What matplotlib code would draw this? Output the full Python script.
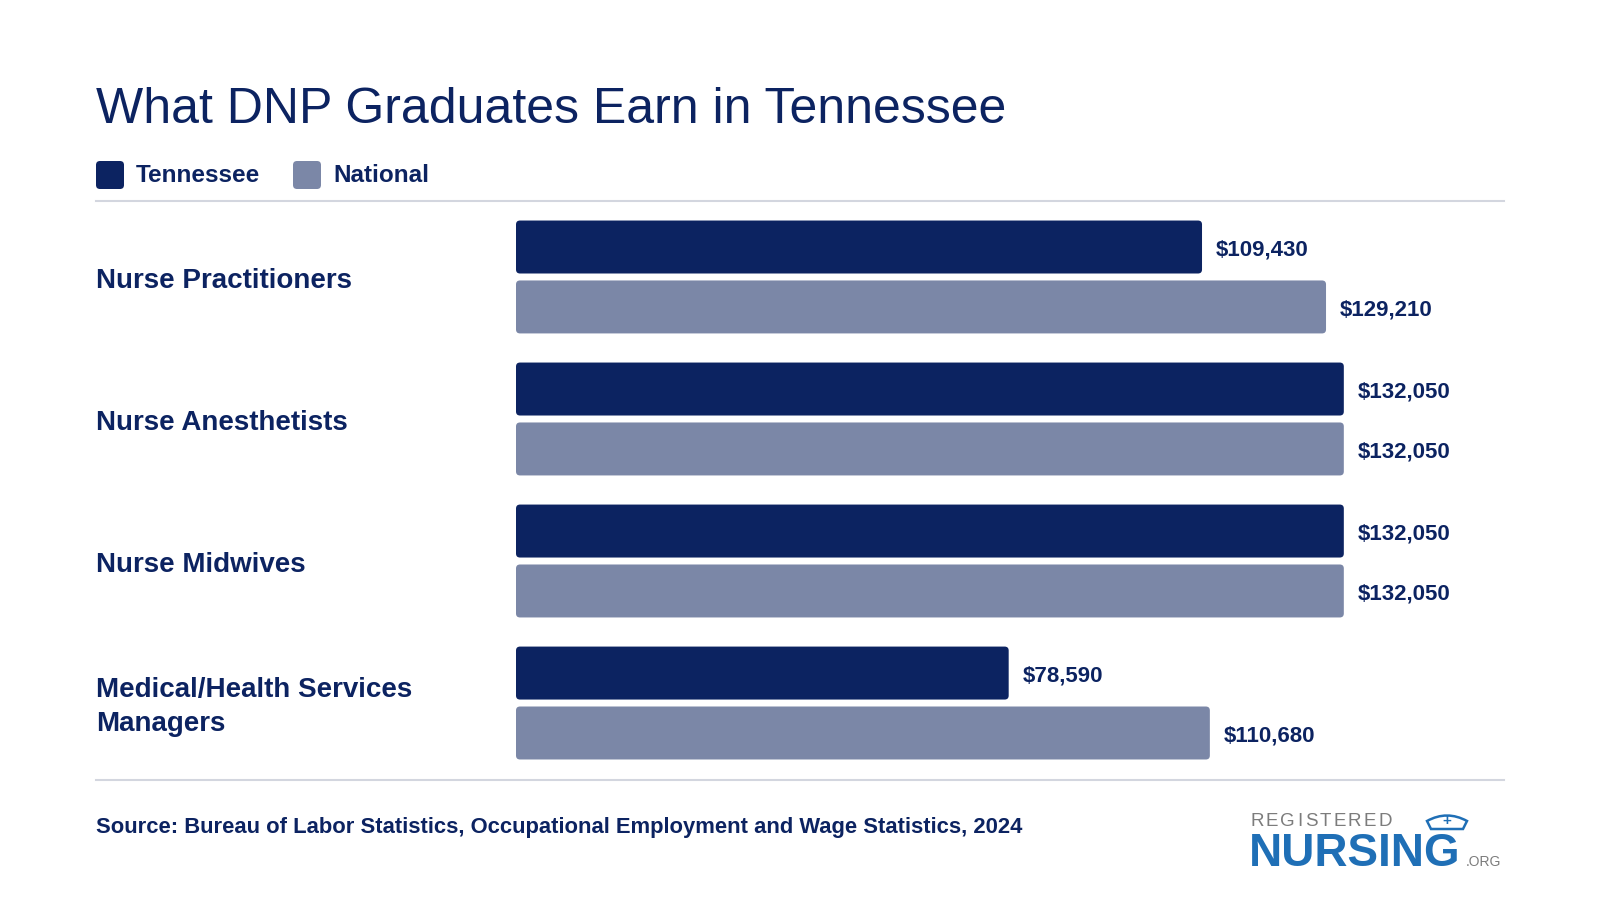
import matplotlib.pyplot as plt
from matplotlib.patches import FancyBboxPatch, PathPatch
from matplotlib.path import Path
from matplotlib.lines import Line2D
from matplotlib.transforms import blended_transform_factory, offset_copy

# --- data ---
categories = ["Nurse Practitioners", "Nurse Anesthetists", "Nurse Midwives",
              "Medical/Health Services\nManagers"]
tennessee = [109430, 132050, 132050, 78590]
national = [129210, 132050, 132050, 110680]
series_names = ["Tennessee", "National"]
source_text = "Source: Bureau of Labor Statistics, Occupational Employment and Wage Statistics, 2024"
title = "What DNP Graduates Earn in Tennessee"

NAVY = "#0c2361"
SLATE = "#7b87a7"
RULE = "#d3d6df"
W, H = 1600, 900

plt.rcParams["font.family"] = ["Liberation Sans", "DejaVu Sans"]

fig = plt.figure(figsize=(16, 9), dpi=100)
fig.patch.set_facecolor("white")


def fx(px):
    return px / W


def fy(py):
    # py measured from the top of the image
    return 1 - py / H


# title
fig.text(fx(96), fy(123), title, fontsize=36, color=NAVY, va="baseline", ha="left")

# legend (rounded squares)
for i, (name, col) in enumerate(zip(series_names, [NAVY, SLATE])):
    x0 = [96, 293][i]
    sq = FancyBboxPatch((x0, H - 189), 28, 28, boxstyle="round,pad=0,rounding_size=4",
                        transform=None, facecolor=col, edgecolor="none")
    fig.add_artist(sq)
    fig.text(fx(x0 + 40), fy(175.5), name, fontsize=17.5, fontweight="bold",
             color=NAVY, va="center", ha="left")

# rules
for py in (201, 780):
    fig.add_artist(Line2D([fx(96), fx(1504)], [fy(py), fy(py)], color=RULE, lw=1.5))

# bars axes
ax = fig.add_axes([fx(516), fy(780), fx(1504) - fx(516), fy(201) - fy(780)])
ax.set_xlim(0, 157600)
ax.set_ylim(3.542, -0.535)
ax.axis("off")

off, bh = 0.211, 0.373
ypos = list(range(len(categories)))
b1 = ax.barh([y - off for y in ypos], tennessee, height=bh, color=NAVY)
b2 = ax.barh([y + off for y in ypos], national, height=bh, color=SLATE)

# swap plain rectangles for rounded ones
xpp = 157600 / (1504 - 516)
ypp = (3.542 + 0.535) / (780 - 201)
for bars in (b1, b2):
    for r in bars:
        r.set_visible(False)
        p = FancyBboxPatch((r.get_x(), r.get_y()), r.get_width(), r.get_height(),
                           boxstyle=f"round,pad=0,rounding_size={4 * xpp}",
                           mutation_aspect=ypp / xpp,
                           facecolor=r.get_facecolor(), edgecolor="none")
        ax.add_patch(p)

for bars, vals in ((b1, tennessee), (b2, national)):
    labs = ax.bar_label(bars, labels=[f"${v:,}" for v in vals], padding=10,
                        fontsize=16, fontweight="bold", color=NAVY)
    for t in labs:
        t.xyann = (t.xyann[0], t.xyann[1] - 2.2)

# category labels
trans = offset_copy(blended_transform_factory(fig.transFigure, ax.transData),
                    fig=fig, y=-3, units="points")
for y, cat in zip(ypos, categories):
    fig.text(fx(96), y, cat, transform=trans, fontsize=20, fontweight="bold",
             color=NAVY, va="center", ha="left", linespacing=1.4)

# source
fig.text(fx(96), fy(828), source_text, fontsize=15.8, fontweight="bold",
         color=NAVY, va="center", ha="left")

# logo
LOGO_BLUE = "#1f6fb6"
LOGO_GRAY = "#7c7c7c"
reg_w = [0.722, 0.667, 0.778, 0.278, 0.667, 0.611, 0.667, 0.722, 0.667, 0.722]
lx = 1250
for ch, w in zip("REGISTERED", reg_w):
    fig.text(fx(lx), fy(826), ch, fontsize=13.5, color=LOGO_GRAY,
             ha="left", va="baseline")
    lx += w * 18.75 + 2.2
fig.text(fx(1249), fy(866), "NURSING", fontsize=33, fontweight="bold",
         color=LOGO_BLUE, ha="left", va="baseline")
fig.text(fx(1466), fy(866), ".ORG", fontsize=10, color=LOGO_GRAY,
         ha="left", va="baseline")
# nurse cap above the G
cap_pts = [(1431, H - 829), (1427, H - 821), (1447, H - 810), (1467, H - 821),
           (1463, H - 829), (1431, H - 829)]
cap_codes = [Path.MOVETO, Path.LINETO, Path.CURVE3, Path.CURVE3, Path.LINETO,
             Path.CLOSEPOLY]
fig.add_artist(PathPatch(Path(cap_pts, cap_codes), transform=None, facecolor="white",
                         edgecolor=LOGO_BLUE, lw=1.8))
fig.text(fx(1447), fy(821), "+", fontsize=11, fontweight="bold", color=LOGO_BLUE,
         ha="center", va="center")

fig.savefig("out.png", dpi=100, facecolor="white")
